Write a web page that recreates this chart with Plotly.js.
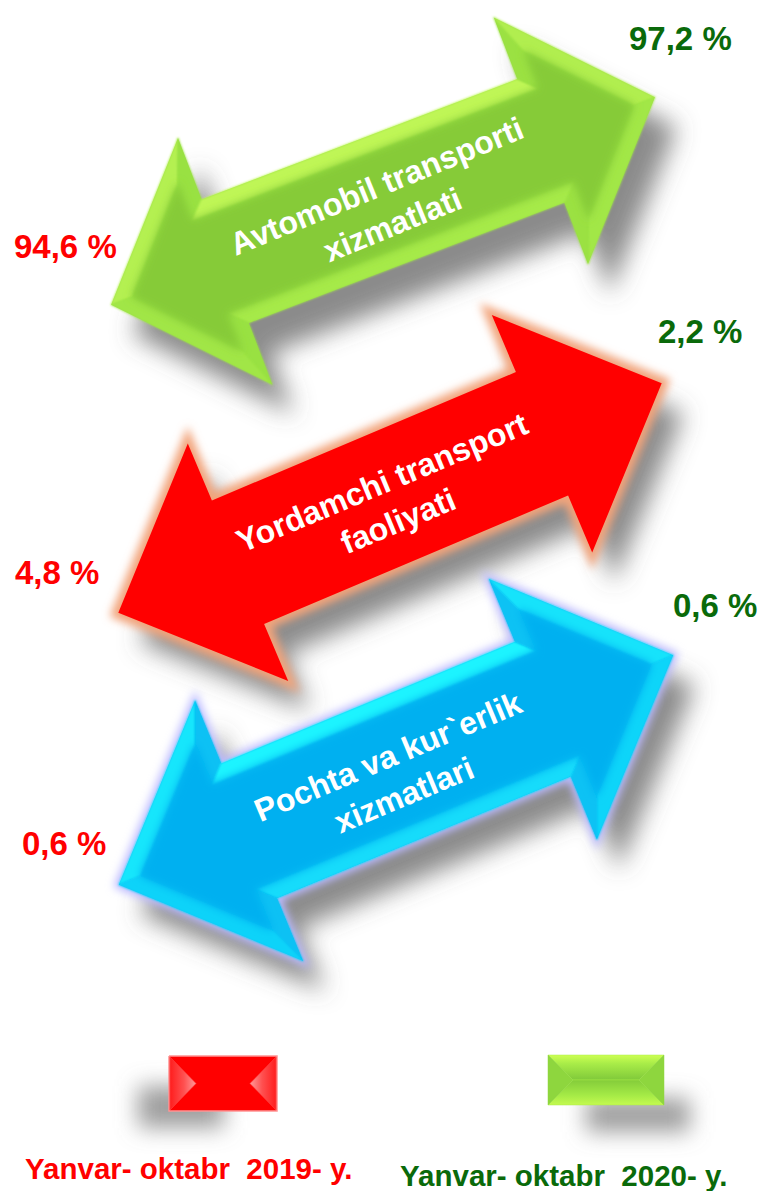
<!DOCTYPE html>
<html><head><meta charset="utf-8">
<script src="https://cdn.plot.ly/plotly-3.0.1.min.js"></script>
<style>html,body{margin:0;padding:0;background:#fff;overflow:hidden}#chart{width:765px;height:1191px}</style>
</head><body><div id="chart"></div>
<script>
// ---------------- data ----------------
const categories = ["Avtomobil transporti<br>xizmatlati", "Yordamchi transport<br>faoliyati", "Pochta va kur`erlik<br>xizmatlari"];
const values2019 = [94.6, 4.8, 0.6];
const values2020 = [97.2, 2.2, 0.6];
const legendLabels = ["Yanvar- oktabr  2019- y.", "Yanvar- oktabr  2020- y."];

// ---------------- layout / style ----------------
const W = 765, H = 1191;
const arrowGeom = [
  {cx: 383, cy: 201, ang: 20.9, L: 291, H: 122, S: 66, W: 132},
  {cx: 390, cy: 498, ang: 22.9, L: 295, H: 130, S: 67, W: 129},
  {cx: 396, cy: 770, ang: 22.5, L: 300, H: 141, S: 73, W: 141}
];
const arrowStyle = [
  {body: '#86cb39', rim: '#98e042', hi: '#bff656', low: '#a6ea48', glow: null, inset: 16},
  {body: '#ff0000', rim: '#ff0000', hi: '#ff0000', low: '#ff0000', glow: '#f2a47c', inset: 0},
  {body: '#00b0f0', rim: '#08c0f4', hi: '#1ef4ff', low: '#12dcfb', glow: '#bcbaff', inset: 16}
];
const textPos = [{x: 384, y: 206, a: -22.3}, {x: 390, y: 502, a: -22.7}, {x: 396, y: 776, a: -22.8}];
const pos2019 = [{x: 65, y: 246}, {x: 57, y: 572}, {x: 64, y: 843}];
const pos2020 = [{x: 680, y: 38}, {x: 700, y: 331}, {x: 715, y: 605}];
const col2019 = '#ff0000', col2020 = '#0a6a0a';
const FONT = '"Liberation Sans", Arial, Helvetica, sans-serif';

// ---------------- helpers ----------------
function arrowPts(g) {
  const a = g.ang * Math.PI / 180;
  const ux = Math.cos(a), uy = -Math.sin(a), nx = Math.sin(a), ny = Math.cos(a);
  const loc = [[-g.L, 0], [-g.L + g.H, -g.W], [-g.L + g.H, -g.S], [g.L - g.H, -g.S], [g.L - g.H, -g.W],
               [g.L, 0], [g.L - g.H, g.W], [g.L - g.H, g.S], [-g.L + g.H, g.S], [-g.L + g.H, g.W]];
  return loc.map(([u, v]) => [g.cx + u * ux + v * nx, g.cy + u * uy + v * ny]);
}
function insetPts(pts, d) {
  const n = pts.length;
  let A = 0;
  for (let i = 0; i < n; i++) { const p = pts[i], q = pts[(i + 1) % n]; A += p[0] * q[1] - q[0] * p[1]; }
  const s = A > 0 ? 1 : -1;
  const lines = [];
  for (let i = 0; i < n; i++) {
    const p = pts[i], q = pts[(i + 1) % n];
    const ex = q[0] - p[0], ey = q[1] - p[1], l = Math.hypot(ex, ey);
    const inx = s * (-ey) / l, iny = s * ex / l;
    lines.push({a: [p[0] + d * inx, p[1] + d * iny], e: [ex, ey], out: [-inx, -iny]});
  }
  const Q = [];
  for (let i = 0; i < n; i++) {
    const l1 = lines[(i - 1 + n) % n], l2 = lines[i];
    const cr = l1.e[0] * l2.e[1] - l1.e[1] * l2.e[0];
    const dx = l2.a[0] - l1.a[0], dy = l2.a[1] - l1.a[1];
    const t = (dx * l2.e[1] - dy * l2.e[0]) / cr;
    Q.push([l1.a[0] + t * l1.e[0], l1.a[1] + t * l1.e[1]]);
  }
  return {Q, lines};
}
function pathOf(pts, dx = 0, dy = 0) {
  return 'M' + pts.map(p => (p[0] + dx).toFixed(1) + ',' + (p[1] + dy).toFixed(1)).join('L') + 'Z';
}
function hex2rgb(h) { return [1, 3, 5].map(i => parseInt(h.substr(i, 2), 16)); }
function mix(c1, c2, t) {
  const a = hex2rgb(c1), b = hex2rgb(c2);
  return 'rgb(' + a.map((v, i) => Math.round(v + (b[i] - v) * t)).join(',') + ')';
}
const fmt = v => v.toFixed(1).replace('.', ',') + ' %';

// ---------------- build shapes ----------------
const shapes = [];
const filterMap = {};
function addShape(s, filt) {
  shapes.push(Object.assign({type: 'path', xref: 'x', yref: 'y', layer: 'above'}, s));
  if (filt) filterMap[shapes.length - 1] = filt;
}
const light = [-0.42, -0.91];
arrowGeom.forEach((g, k) => {
  const st = arrowStyle[k];
  const P = arrowPts(g);
  addShape({path: pathOf(P, 22, 30), fillcolor: 'rgba(90,90,90,0.7)', line: {width: 0}}, 'fShadow');
  if (st.glow) addShape({path: pathOf(P), fillcolor: st.glow, line: {width: k === 2 ? 8 : 13, color: st.glow}}, 'fGlow');
  addShape({path: pathOf(P), fillcolor: st.rim, line: {width: 0}});
  if (st.inset > 0) {
    const {Q, lines} = insetPts(P, st.inset);
    const n = P.length;
    for (let i = 0; i < n; i++) {
      const j = (i + 1) % n;
      const d = lines[i].out[0] * light[0] + lines[i].out[1] * light[1];
      const c = d >= 0 ? mix(st.rim, st.hi, d) : mix(st.rim, st.low, -d);
      addShape({path: pathOf([P[i], P[j], Q[j], Q[i]]), fillcolor: c, line: {width: 0.6, color: c}}, 'fFacet');
    }
    addShape({path: pathOf(Q), fillcolor: st.body, line: {width: 0}}, 'fSoft');
  }
});

// legend shadows
addShape({path: pathOf([[138, 1086], [224, 1086], [224, 1128], [138, 1128]]), fillcolor: 'rgba(125,125,125,0.75)', line: {width: 0}, layer: 'below'}, 'fLegend');
addShape({path: pathOf([[586, 1098], [690, 1098], [690, 1132], [586, 1132]]), fillcolor: 'rgba(125,125,125,0.75)', line: {width: 0}, layer: 'below'}, 'fLegend');

// ---------------- traces (legend boxes with gradients) ----------------
const redBox = {x0: 169, y0: 1056, x1: 277, y1: 1111};
const grnBox = {x0: 548, y0: 1055, x1: 664, y1: 1105};
const traces = [];
const poly = (pts, grad, fc, lc, lw) => ({
  type: 'scatter', mode: 'lines', x: pts.map(p => p[0]).concat([pts[0][0]]), y: pts.map(p => p[1]).concat([pts[0][1]]),
  fill: 'toself', fillcolor: fc, line: {width: lw || 0.5, color: lc || fc}, hoverinfo: 'skip', showlegend: false,
  fillgradient: grad
});
(function () {
  const b = redBox, my = (b.y0 + b.y1) / 2, ins = 27;
  traces.push(poly([[b.x0, b.y0], [b.x1, b.y0], [b.x1, b.y1], [b.x0, b.y1]], undefined, '#ff0000', '#ff9494', 1.5));
  traces.push(poly([[b.x0 + 1, b.y0 + 1], [b.x0 + ins, my], [b.x0 + 1, b.y1 - 1]],
    {type: 'horizontal', colorscale: [[0, '#ff1a1a'], [0.55, '#ff5050'], [1, '#ff9a9a']], start: b.x0, stop: b.x0 + ins}, '#ff5050'));
  traces.push(poly([[b.x1 - 1, b.y0 + 1], [b.x1 - ins, my], [b.x1 - 1, b.y1 - 1]],
    {type: 'horizontal', colorscale: [[0, '#ff9a9a'], [0.45, '#ff5050'], [1, '#ff1a1a']], start: b.x1 - ins, stop: b.x1}, '#ff5050'));
})();
(function () {
  const b = grnBox, my = (b.y0 + b.y1) / 2, ins = 25;
  traces.push(poly([[b.x0, b.y0], [b.x1, b.y0], [b.x1 - ins, my], [b.x0 + ins, my]],
    {type: 'vertical', colorscale: [[0, '#cdff52'], [0.35, '#a8ec48'], [1, '#80c93a']], start: b.y0, stop: my}, '#a8ec48'));
  traces.push(poly([[b.x0 + ins, my], [b.x1 - ins, my], [b.x1, b.y1], [b.x0, b.y1]],
    {type: 'vertical', colorscale: [[0, '#84cc3a'], [0.6, '#a4ea46'], [1, '#c4fa50']], start: my, stop: b.y1}, '#a4ea46'));
  traces.push(poly([[b.x0, b.y0], [b.x0 + ins, my], [b.x0, b.y1]], undefined, '#8ed63e'));
  traces.push(poly([[b.x1, b.y0], [b.x1 - ins, my], [b.x1, b.y1]], undefined, '#8ed63e'));
})();

// ---------------- annotations ----------------
const annotations = [];
categories.forEach((c, i) => {
  annotations.push({x: textPos[i].x, y: textPos[i].y, xref: 'x', yref: 'y', text: c, showarrow: false,
    textangle: textPos[i].a, xanchor: 'center', yanchor: 'middle', align: 'center',
    font: {family: FONT, size: 32, color: '#ffffff', weight: 700}});
  annotations.push({x: pos2019[i].x, y: pos2019[i].y, xref: 'x', yref: 'y', text: fmt(values2019[i]), showarrow: false,
    xanchor: 'center', yanchor: 'middle', font: {family: FONT, size: 33, color: col2019, weight: 700}});
  annotations.push({x: pos2020[i].x, y: pos2020[i].y, xref: 'x', yref: 'y', text: fmt(values2020[i]), showarrow: false,
    xanchor: 'center', yanchor: 'middle', font: {family: FONT, size: 33, color: col2020, weight: 700}});
});
const legPos = [{x: 188, y: 1168, c: col2019}, {x: 563, y: 1175, c: col2020}];
legendLabels.forEach((t, i) => {
  annotations.push({x: legPos[i].x, y: legPos[i].y, xref: 'x', yref: 'y', text: t.replace(/  /g, ' \u00a0'), showarrow: false,
    xanchor: 'center', yanchor: 'middle', font: {family: FONT, size: 29.5, color: legPos[i].c, weight: 700}});
});

const layout = {
  width: W, height: H, autosize: false,
  margin: {l: 0, r: 0, t: 0, b: 0, pad: 0},
  paper_bgcolor: '#ffffff', plot_bgcolor: '#ffffff',
  xaxis: {range: [0, W], visible: false, fixedrange: true},
  yaxis: {range: [H, 0], visible: false, fixedrange: true},
  showlegend: false, shapes, annotations
};

const gd = document.getElementById('chart');
Plotly.newPlot(gd, traces, layout, {staticPlot: true, displayModeBar: false}).then(() => {
  const ns = 'http://www.w3.org/2000/svg';
  const svg = gd.querySelector('svg.main-svg');
  let defs = svg.querySelector('defs');
  if (!defs) { defs = document.createElementNS(ns, 'defs'); svg.insertBefore(defs, svg.firstChild); }
  const mk = (id, std, m) => {
    const f = document.createElementNS(ns, 'filter');
    f.setAttribute('id', id); f.setAttribute('x', -m + '%'); f.setAttribute('y', -m + '%');
    f.setAttribute('width', (100 + 2 * m) + '%'); f.setAttribute('height', (100 + 2 * m) + '%');
    const b = document.createElementNS(ns, 'feGaussianBlur');
    b.setAttribute('stdDeviation', std); f.appendChild(b); defs.appendChild(f);
  };
  mk('fShadow', 12, 30); mk('fGlow', 4, 20); mk('fSoft', 4, 20); mk('fFacet', 1.2, 40); mk('fLegend', 11, 120);
  gd.querySelectorAll('.shapelayer path').forEach(p => {
    const i = +p.getAttribute('data-index');
    if (filterMap[i]) p.setAttribute('filter', 'url(#' + filterMap[i] + ')');
  });
});
</script>
</body></html>
